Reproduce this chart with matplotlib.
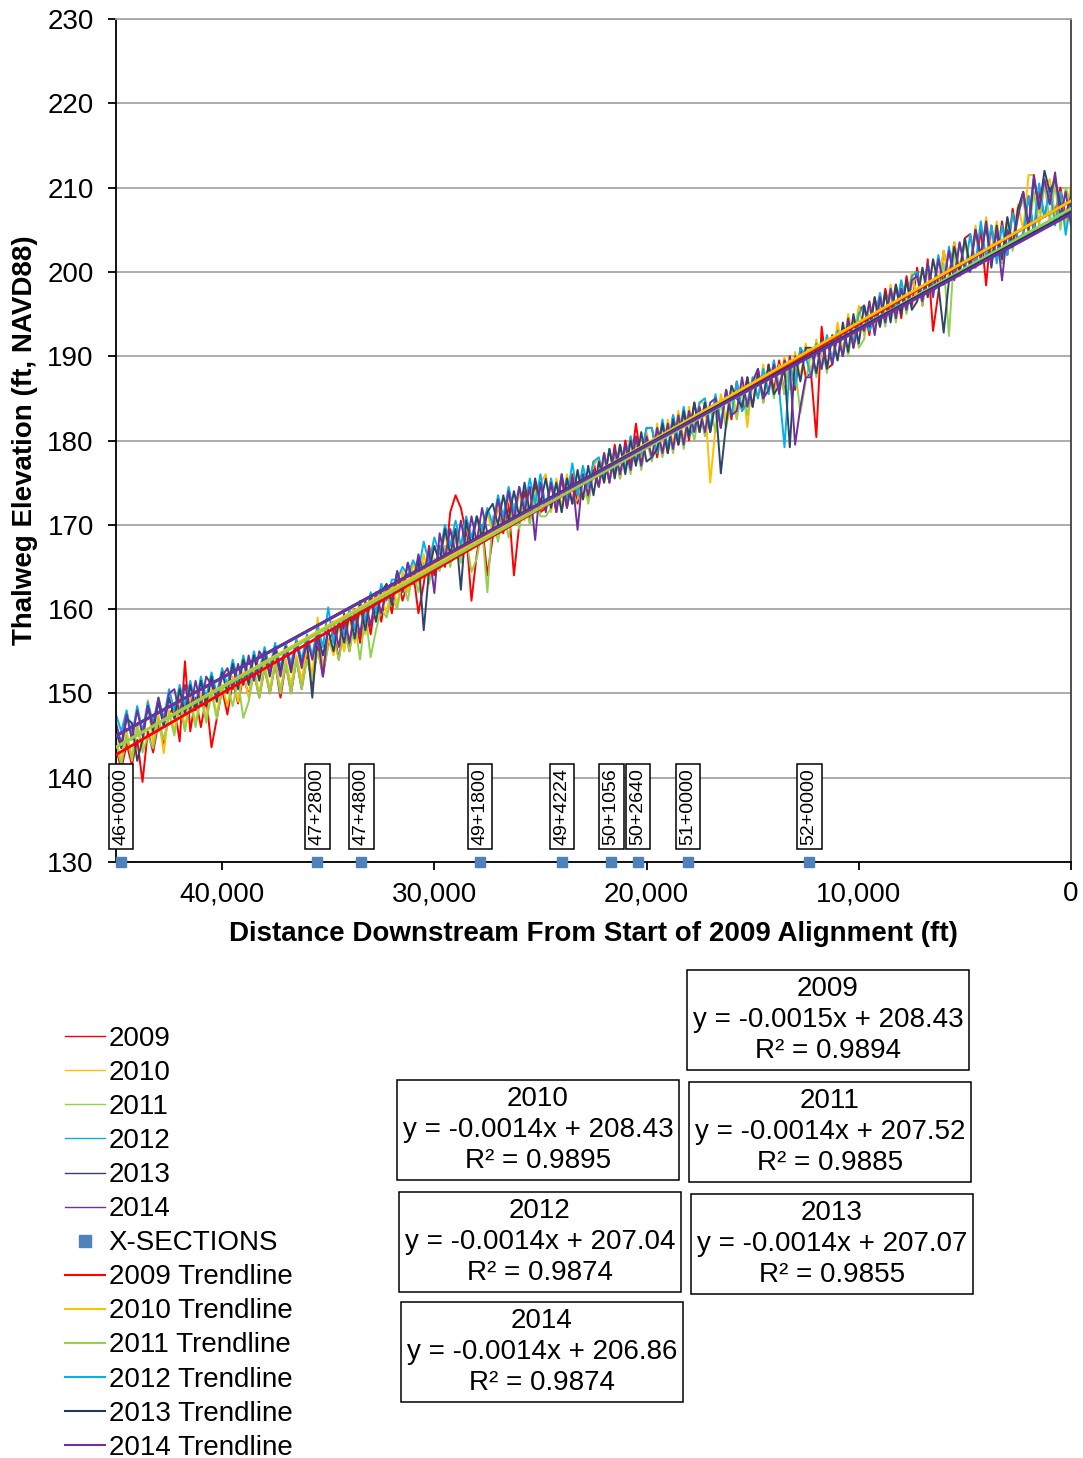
import numpy as np
import matplotlib
matplotlib.use("Agg")
import matplotlib.pyplot as plt
from matplotlib.lines import Line2D
from matplotlib.ticker import FuncFormatter

plt.rcParams['font.family'] = ['Liberation Sans', 'DejaVu Sans']

# distance downstream (ft), one reading every 250 ft
dist = list(range(0, 45001, 250))

elev_2009 = [209.5, 206.5, 210, 207, 209.5, 206.5, 209.5, 204.5, 209, 204.5,
             203.5, 207.5, 202, 206, 201.5, 205.5, 198.4, 205, 200.5, 204.5,
             204, 199.5, 203.5, 199.5, 202.5, 197.5, 193, 201.5, 196, 200.5,
             196, 199.5, 194.5, 198.5, 195, 198, 193.5, 197, 192.5, 196,
             195.5, 191, 194.5, 190, 193.5, 189, 188.5, 193.5, 180.4, 188,
             187.5, 191, 186, 190, 185.5, 189.5, 186, 189, 184.5, 188.5,
             184, 187.5, 183.5, 187, 182.5, 186, 181.5, 185, 181, 184.5,
             181, 184.5, 180, 183.5, 179.5, 183, 178.5, 182, 178, 181.5,
             181.5, 177.5, 182, 177, 180, 175.5, 179.5, 175, 178.5, 174.5,
             177.5, 173, 176.5, 172.5, 176, 172, 175.5, 171.5, 175, 172,
             171.5, 175, 170.5, 174, 170, 164, 172.5, 169, 172.5, 168.5,
             164, 170, 166.5, 161, 169, 172, 173.5, 171.5, 165, 167.5,
             164, 167.5, 163, 159.5, 164.5, 163, 161, 164, 159.5, 162.5,
             158.5, 161.5, 157, 160.5, 156, 159.5, 155, 158.5, 154, 157.5,
             156, 152, 155.5, 151, 154.5, 150.5, 154, 150, 153.5, 149.5,
             153.5, 150, 153, 149.5, 152.5, 149.8, 152, 148.8, 151.5, 147.5,
             150.5, 147, 143.6, 149.5, 146, 149.5, 145.5, 153.8, 144.3, 148.5,
             147.5, 144, 146.5, 143, 145.5, 139.5, 144.5, 141.5, 144, 141,
             143.5]
elev_2010 = [210.5, 205.5, 209.5, 206.5, 211, 210, 207, 211.5, 211.5, 205,
             208, 203.5, 206.5, 202, 206, 202.5, 206.5, 201.5, 205.5, 201,
             204, 200.5, 203.5, 199, 202.5, 198.5, 201.5, 197, 200.5, 196.5,
             200, 196, 199, 195, 198.5, 194.5, 197.5, 193.5, 196.5, 192.5,
             196, 192, 195, 190.5, 194, 189.5, 192.5, 189, 192, 188,
             191.5, 187.5, 190.5, 186, 190, 186.5, 189.5, 185.5, 189, 185,
             187.5, 181.6, 187, 183, 186.5, 182.5, 185.5, 181.5, 175, 184.5,
             184.5, 181, 184, 180, 183.5, 179.5, 182.5, 178.5, 182, 178,
             181, 178, 177.5, 180.5, 176.5, 179.5, 175.5, 179, 175, 178,
             177, 174, 173, 176.5, 172.5, 176, 172, 175.5, 171.5, 176,
             175, 171.5, 174.5, 170.5, 174, 170, 173.5, 169.5, 172.5, 169,
             171.5, 168, 171, 167, 170, 166.5, 169.5, 166, 169, 165.5,
             167.5, 164, 166.5, 163, 165.5, 162, 164.5, 160.5, 163, 159.5,
             161.5, 158.5, 161, 157, 160, 156, 159, 155, 158, 154.5,
             156.5, 153, 159, 152, 155.5, 151.5, 154.5, 151, 154, 150.5,
             154, 150.5, 153.5, 150, 153, 149.5, 152.5, 149, 152, 148.5,
             151, 147.5, 150.5, 147, 150, 146.5, 149.5, 146, 149.5, 145.5,
             148, 142.9, 147.5, 144, 149.2, 143.5, 146.5, 142.5, 145.5, 142,
             144.5]
elev_2011 = [208, 210, 205, 210.5, 206, 210.5, 205.5, 209.5, 204.5, 208.5,
             207, 202.5, 206, 201, 205, 201.5, 206, 201, 204.5, 200.5,
             203.5, 199.5, 202.5, 192.4, 201, 199, 197.5, 200.5, 196, 199.5,
             198.5, 195, 198, 194, 197.5, 193.5, 196.5, 193, 196, 192,
             191, 194.5, 190, 193.5, 189.5, 192.5, 188, 191.5, 187.5, 190.5,
             187, 183.3, 188.5, 189.5, 185.5, 189, 185, 188.5, 184.5, 188,
             186.5, 183, 186, 182.5, 185, 181.5, 184.5, 181, 184, 180.5,
             183.5, 180, 183, 179, 182.5, 178.5, 181.5, 178, 181, 177.5,
             180, 176.5, 180, 176, 179, 175.5, 178.5, 175, 178, 174.5,
             176, 172.5, 176.5, 173, 172.5, 175.5, 171.5, 175, 172, 171,
             171, 174, 170, 173, 169.5, 172.5, 168.5, 171.5, 168, 171,
             162, 169.5, 166, 164.4, 168.5, 165.5, 168.5, 165, 167.5, 164.5,
             166, 163, 165.5, 162, 164.5, 161, 163.5, 160, 161.5, 159,
             160, 157.5, 154.3, 159.5, 154, 158.5, 155, 157.5, 154, 156.5,
             155.5, 152.5, 155, 151.5, 154, 150.5, 154, 150, 153.5, 150,
             153.5, 150, 153, 149.5, 152.5, 149, 147.1, 151.5, 148.5, 151,
             150.5, 147, 150, 146.5, 149.5, 146, 149, 145.5, 148.5, 145,
             147.5, 144.5, 147, 143.5, 144.9, 143, 146, 142, 145, 141.5,
             144]
elev_2012 = [208.5, 204.4, 209.5, 205.5, 210, 206.5, 210.5, 205, 209, 204.5,
             204, 207, 202, 205.5, 201, 205.5, 201.5, 206, 201, 204.5,
             200, 203.5, 199.5, 203, 198.5, 202, 198, 201, 197, 200,
             199.5, 195.5, 199, 195.5, 198, 194, 197.5, 194.5, 193, 196,
             195, 191.5, 194, 190, 193, 189.5, 192.5, 188.5, 191.5, 187.5,
             190, 191, 186.5, 189, 179.2, 186, 189.5, 185.5, 188.5, 185,
             187.5, 184.5, 183.5, 187, 183, 186, 182, 185.5, 181.5, 185,
             184.5, 181.5, 180.5, 184, 180, 183, 179, 182.5, 178.5, 181.5,
             181.5, 178.5, 177.5, 180.5, 176.5, 179.5, 176, 179, 175.5, 178,
             177.5, 174.5, 177, 173.5, 177.3, 173, 176, 172.5, 175.5, 172,
             176, 172.5, 175.5, 172, 174.5, 171.5, 174.5, 171, 173.5, 170,
             172, 169.5, 171, 168.5, 171, 167.5, 170.5, 167.5, 170, 166.5,
             168.5, 165.5, 168, 164.5, 165.8, 164, 165, 163.5, 163.5, 161,
             163, 159.5, 162, 158.5, 161, 157.5, 160, 157, 158.5, 156,
             160.2, 155.5, 158, 154.5, 157, 154, 156.5, 153.5, 156, 153,
             156, 153, 155.5, 152.5, 155, 152, 154.5, 151.5, 154, 151,
             153, 150, 152.5, 149.5, 152, 148.5, 151.5, 148.5, 151, 148,
             150.5, 147, 149.5, 146.5, 149, 145.5, 148.5, 145, 148, 145.5,
             147.5]
elev_2013 = [209, 206.5, 208, 211, 209.5, 212, 207.5, 211, 205, 209.5,
             207.5, 203, 206.5, 201.5, 205.5, 200.5, 205.5, 202, 205, 200.5,
             204, 200, 203, 199, 192.8, 198.5, 201.5, 197, 200.5, 196.5,
             195.5, 199, 195, 198.5, 194, 197.5, 193.5, 197, 193.5, 196,
             191.5, 195, 190.5, 194, 189.5, 192.5, 188.5, 192, 188, 191,
             191, 187, 190, 179.2, 188.5, 186.5, 185.5, 189, 185, 188,
             184, 187.5, 184, 185, 186.5, 182, 176.1, 184.5, 181, 184.5,
             181, 184.5, 180.5, 183.5, 179.5, 182.5, 178.5, 182, 179, 178,
             177.5, 181, 177, 180, 176, 179.5, 175.5, 179, 175, 177.5,
             173.5, 177, 173, 176.5, 172.5, 175.5, 171.5, 175, 172, 175.5,
             172.5, 175.5, 171.5, 175, 171, 174, 170.5, 173.5, 170, 172.5,
             171.5, 168.5, 171, 167.5, 170.5, 162.3, 169.5, 166.5, 169.5, 165.5,
             167.5, 164.5, 157.5, 166, 163, 165.5, 162, 164.5, 160.5, 163,
             162, 158.5, 161.5, 157.5, 160.5, 156.5, 159.5, 156, 158.5, 155,
             157.5, 154.5, 157, 149.5, 156, 153.5, 156, 152.5, 155.5, 152.5,
             155.5, 152, 155, 151.5, 154.5, 151, 154, 150.5, 153.5, 150,
             152.5, 149, 152, 148.5, 151.5, 148, 151, 147.5, 150.5, 147,
             149.5, 146, 149, 145.5, 148.5, 144.5, 142, 146.5, 147, 143.5,
             145.5]
elev_2014 = [205.5, 209.5, 206.5, 211.8, 208, 211, 207.5, 211.5, 205.5, 209.5,
             206.5, 203, 205, 199, 205, 201, 206, 201.5, 205, 200,
             200.5, 203.5, 199, 202.5, 198.5, 201.5, 197, 201, 196.5, 199.5,
             199, 195.5, 198, 194.5, 198, 194, 197, 192.5, 196.5, 193,
             194, 191, 194.5, 190, 192.5, 189, 192, 188.5, 191, 187.5,
             187.5, 184, 179.5, 188.5, 189.5, 185.5, 189, 186, 185, 188.5,
             187, 184, 187.5, 183.5, 183, 186, 181.5, 185, 184.5, 181,
             184, 181, 183.5, 179.5, 183, 179, 182, 178.5, 181.5, 178,
             180.5, 177, 180.5, 176.5, 179.5, 176, 179, 175, 178.5, 174.5,
             176.5, 173.5, 176, 169.4, 175.5, 172, 176, 171.5, 175, 171.5,
             175, 168.2, 174.5, 171.5, 174.5, 170.5, 174, 170, 173, 169.5,
             169, 172, 168, 171, 167, 170.5, 166.5, 169.5, 166, 169,
             161.9, 167, 164, 166.5, 163, 165.5, 162, 164.5, 161, 162.5,
             159.5, 162, 158, 161, 157, 160, 156, 159.5, 155.5, 158.5,
             158, 152, 157, 154, 156.5, 153, 156, 153, 155.5, 152,
             155, 152.5, 154, 155, 151.5, 154.5, 151, 153.5, 150.5, 153,
             152, 149.5, 151, 152, 148.5, 151.5, 148, 151, 147.5, 150.5,
             150, 146.5, 149.5, 146, 148.5, 145, 148, 144.5, 147.5, 144,
             146.5]

years = ['2009', '2010', '2011', '2012', '2013', '2014']
data_colors = ['#FF0000', '#FFC000', '#92D050', '#00B0F0', '#2E4468', '#7030A0']
trend_colors = ['#FF0000', '#FFC000', '#92D050', '#00B0F0', '#1F3864', '#7030A0']

# trendline labels as printed, and slopes
eq_slope_txt = ['-0.0015', '-0.0014', '-0.0014', '-0.0014', '-0.0014', '-0.0014']
intercepts = [208.43, 208.43, 207.52, 207.04, 207.07, 206.86]
r_squared = ['0.9894', '0.9895', '0.9885', '0.9874', '0.9855', '0.9874']
slopes = [-0.00146, -0.00144, -0.00142, -0.00138, -0.00138, -0.001375]

xsec_labels = ['46+0000', '47+2800', '47+4800', '49+1800', '49+4224',
               '50+1056', '50+2640', '51+0000', '52+0000']
xsec_dist = [44760, 35520, 33450, 27850, 23980, 21670, 20400, 18050, 12340]

W, H = 1083, 1458


def main():
    fig = plt.figure(figsize=(W / 100, H / 100), dpi=100)
    ax = fig.add_axes([116 / W, 1 - 862 / H, (1071 - 116) / W, (862 - 19) / H])

    series = [elev_2009, elev_2010, elev_2011, elev_2012, elev_2013, elev_2014]
    for vals, c in zip(series, data_colors):
        ax.plot(dist, vals, color=c, lw=1.4, zorder=2)

    ax.plot(xsec_dist, [130] * len(xsec_dist), 's', color='#4F81BD', ms=7,
            clip_on=False, zorder=6)
    for xd, lab in zip(xsec_dist, xsec_labels):
        ax.text(xd, 136.6, lab, rotation=90, ha='center', va='center', fontsize=14,
                bbox=dict(boxstyle='square,pad=0.2', fc='white', ec='black', lw=1.1),
                zorder=5)

    tx = np.array([45000, 0])
    for m, b, c in zip(slopes, intercepts, trend_colors):
        ax.plot(tx, m * tx + b, color=c, lw=2.0, zorder=4)

    ax.set_xlim(45000, 0)
    ax.set_ylim(130, 230)
    ax.set_yticks(range(130, 231, 10))
    ax.set_xticks([40000, 30000, 20000, 10000, 0])
    ax.xaxis.set_major_formatter(FuncFormatter(lambda v, p: f'{int(v):,}'))
    ax.grid(axis='y', color='#A6A6A6', lw=1.3, zorder=0)
    ax.set_axisbelow(True)
    ax.tick_params(labelsize=20, length=6, width=1.3)
    ax.tick_params(axis='x', pad=8)
    ax.tick_params(axis='y', pad=10)
    ax.spines['top'].set_color('#A6A6A6')
    ax.spines['right'].set_color('#404040')
    for s in ax.spines.values():
        s.set_linewidth(1.3)

    ax.set_xlabel('Distance Downstream From Start of 2009 Alignment (ft)',
                  fontsize=20, fontweight='bold')
    ax.xaxis.set_label_coords(0.5, -0.07)
    ax.set_ylabel('Thalweg Elevation (ft, NAVD88)', fontsize=20, fontweight='bold')
    ax.yaxis.set_label_coords(-0.082, 0.5)

    handles, labels = [], []
    for y, c in zip(years, data_colors):
        handles.append(Line2D([], [], color=c, lw=1.0))
        labels.append(y)
    handles.append(Line2D([], [], ls='none', marker='s', color='#4F81BD', ms=8))
    labels.append('X-SECTIONS')
    for y, c in zip(years, trend_colors):
        handles.append(Line2D([], [], color=c, lw=1.5))
        labels.append(y + ' Trendline')
    fig.legend(handles, labels, loc='upper left', bbox_to_anchor=(65 / W, 1 - 1026 / H),
               frameon=False, fontsize=20, handlelength=1.45, handletextpad=0.12,
               labelspacing=0.29, borderpad=0, borderaxespad=0)

    # trendline equation boxes
    box_centers = [(828, 1020), (538, 1130), (830, 1132), (540, 1242), (832, 1244), (542, 1352)]
    for (cx, cy), y, s, b, r in zip(box_centers, years, eq_slope_txt, intercepts, r_squared):
        txt = f'{y}\ny = {s}x + {b:.2f}\nR² = {r}'
        fig.text(cx / W, 1 - cy / H, txt, ha='center', va='center', fontsize=20,
                 linespacing=1.25,
                 bbox=dict(boxstyle='square,pad=0.2', fc='white', ec='black', lw=1.1))

    fig.savefig('out.png', dpi=100)


if __name__ == '__main__':
    main()
